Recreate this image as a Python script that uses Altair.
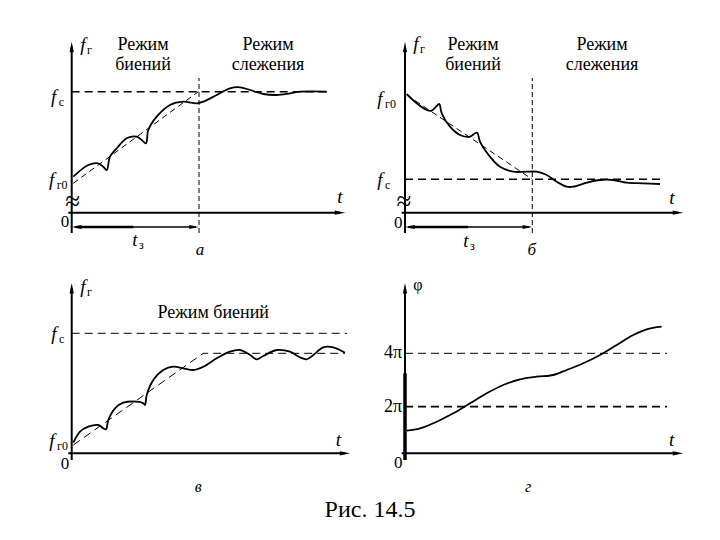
import altair as alt
import pandas as pd

SERIF = "Liberation Serif"
W, H = 352, 262

# ---------------- panel а : beat mode -> tracking (frequency rises) ----------------
A_T = [1.6, 16.6, 26.6, 31.6, 35, 38.3, 45, 55, 65, 70, 74.3, 76.6, 85, 98.3, 111.6,
       125, 131.6, 145, 158.3, 168.3, 178.3, 191.6, 205, 218.3, 228.3, 255]
A_F = [36, 47.7, 49.4, 46, 42.7, 56, 64.4, 74.4, 76, 72.7, 69.4, 82.7, 96, 107.7, 111,
       109.4, 111, 117.7, 124.4, 125.4, 122.7, 118.7, 117.7, 119.4, 121, 121]
A_TREND_T = [1.6, 126.6]
A_TREND_F = [29.4, 121.0]
A_FC = 121.0
A_TZ = 127.3

# ---------------- panel б : beat mode -> tracking (frequency falls) ----------------
B_T = [1.7, 11.7, 21.7, 26.7, 31.7, 34.3, 36.7, 45, 55, 65, 70, 72.3, 75, 85, 95, 108.3,
       121.7, 131.7, 141.7, 151.7, 161.7, 168.3, 181.7, 195, 208.3, 221.7, 238.3, 255]
B_F = [118.7, 109.4, 102.7, 102, 106.7, 108.7, 99.4, 86, 77.7, 76, 79.4, 80, 71, 56, 46, 41,
       41, 41, 37.7, 31, 26, 26, 30, 32.7, 32.7, 30, 29.4, 28.7]
B_TREND_T = [1.7, 127.3]
B_TREND_F = [117.7, 33.4]
B_FC = 33.4
B_TZ = 127.3

# ---------------- panel в : beat mode only ----------------
V_T = [1.6, 8.3, 16.6, 26.6, 31.6, 34.3, 36.6, 43.3, 51.6, 65, 71.6, 73.3, 75, 81.6, 91.6,
       101.6, 111.6, 121.6, 131.6, 145, 158.3, 168.3, 178.3, 185, 191.6, 205, 218.3, 228.3,
       235, 241.6, 251.6, 261.6, 273.3]
V_F = [10.6, 21.6, 26.6, 28.3, 25, 24, 33.3, 45, 50.6, 51.6, 50, 48.3, 58.3, 73.3, 83.3,
       86.6, 85, 83.3, 86.6, 95, 101.6, 103.3, 98.3, 94, 97.3, 103.3, 101.6, 96, 94, 98.3,
       106, 106, 100.6]
V_TREND_T = [1.6, 131.6, 273.3]
V_TREND_F = [8.3, 100.0, 100.0]
V_FC = 120.0

# ---------------- panel г : phase ----------------
G_T = [1.7, 15, 31.7, 48.3, 65, 81.7, 98.3, 115, 131.7, 148.3, 161.7, 178.3, 195, 211.7,
       228.3, 241.7, 256.7]
G_F = [22.6, 25, 31.6, 40, 50, 60, 68.3, 74, 76.6, 78.3, 83.3, 90, 98.3, 108.3, 118.3,
       124, 126.6]
G_4PI = 100.0
G_2PI = 46.6

UP = "M0,-1L0.4,1L-0.4,1Z"
RIGHT = "M1,0L-1,-0.4L-1,0.4Z"
LEFT = "M-1,0L1,-0.4L1,0.4Z"


def scales(xd, yd):
    return (alt.Scale(domain=xd, nice=False, zero=False),
            alt.Scale(domain=yd, nice=False, zero=False))


def enc(xs, ys):
    return dict(x=alt.X("x:Q", scale=xs, axis=None), y=alt.Y("y:Q", scale=ys, axis=None))


def path(xv, yv, xs, ys, width=1.8, dash=None, interp="linear"):
    df = pd.DataFrame({"x": list(xv), "y": list(yv), "i": list(range(len(xv)))})
    kw = dict(color="black", strokeWidth=width, interpolate=interp, strokeCap="butt")
    if dash:
        kw["strokeDash"] = dash
    return alt.Chart(df).mark_line(**kw).encode(order="i:Q", **enc(xs, ys))


def head(xv, yv, shape, xs, ys, size=110):
    df = pd.DataFrame({"x": [xv], "y": [yv]})
    return alt.Chart(df).mark_point(shape=shape, filled=True, color="black", opacity=1,
                                    size=size, strokeWidth=0).encode(**enc(xs, ys))


def label(rows, xs, ys, size, italic=False, align="center"):
    df = pd.DataFrame(rows, columns=["x", "y", "text"])
    return alt.Chart(df).mark_text(font=SERIF, fontSize=size,
                                   fontStyle="italic" if italic else "normal",
                                   align=align, baseline="middle", color="black").encode(
        text="text:N", **enc(xs, ys))


def axes(xs, ys, y_lo, y_top, x_lo, x_tip):
    return [
        path([0, 0], [y_lo, y_top - 5], xs, ys, width=2),
        head(0, y_top - 5, UP, xs, ys),
        path([x_lo, x_tip - 5], [0, 0], xs, ys, width=2),
        head(x_tip - 5, 0, RIGHT, xs, ys),
    ]


# ---------- а ----------
xs, ys = scales([-63.7, 288.3], [-57.3, 204.7])
pa = alt.layer(
    *axes(xs, ys, -20.3, 170.7, -3.4, 273.3),
    path([0, 255], [A_FC, A_FC], xs, ys, width=1.6, dash=[8, 5]),
    path(A_TREND_T, A_TREND_F, xs, ys, width=1, dash=[6, 4]),
    path([A_TZ, A_TZ], [-20.3, 134.7], xs, ys, width=1, dash=[5, 3]),
    path([3, A_TZ - 3], [-14.3, -14.3], xs, ys, width=1.3),
    path([5, 61.6], [-14.3, -14.3], xs, ys, width=2.6),
    head(5, -14.3, LEFT, xs, ys, size=90),
    head(A_TZ - 5, -14.3, RIGHT, xs, ys, size=90),
    path(A_T, A_F, xs, ys, width=1.8, interp="catmull-rom"),
    label([[1, 11, "≈"]], xs, ys, 27),
    label([[11.3, 167.7, "f"], [-18, 115.7, "f"], [-20, 32.7, "f"], [268.3, 16, "t"],
           [63.3, -27.3, "t"]], xs, ys, 19, italic=True),
    label([[128.3, -37.3, "а"]], xs, ys, 17, italic=True),
    label([[15.3, 162.7, "г"], [-13, 110.7, "c"], [-15, 27.7, "г0"], [67.3, -32, "з"]],
          xs, ys, 12, align="left"),
    label([[-6.7, -9, "0"]], xs, ys, 17),
    label([[71.3, 167.7, "Режим"], [71.3, 147.7, "биений"],
           [196.3, 167.7, "Режим"], [196.3, 147.7, "слежения"]], xs, ys, 18),
).properties(width=W, height=H)

# ---------- б ----------
xs, ys = scales([-45, 307], [-57.3, 204.7])
pb = alt.layer(
    *axes(xs, ys, -20.3, 170.7, -3.4, 278),
    path([0, 255], [B_FC, B_FC], xs, ys, width=1.6, dash=[8, 5]),
    path(B_TREND_T, B_TREND_F, xs, ys, width=1, dash=[6, 4]),
    path([B_TZ, B_TZ], [-20.3, 134.7], xs, ys, width=1, dash=[5, 3]),
    path([3, B_TZ - 3], [-14.3, -14.3], xs, ys, width=1.3),
    path([5, 63], [-14.3, -14.3], xs, ys, width=2.6),
    head(5, -14.3, LEFT, xs, ys, size=90),
    head(B_TZ - 5, -14.3, RIGHT, xs, ys, size=90),
    path(B_T, B_F, xs, ys, width=1.8, interp="catmull-rom"),
    label([[-1, 11, "≈"]], xs, ys, 27),
    label([[11, 168.7, "f"], [-25, 113.7, "f"], [-25, 32.7, "f"], [267, 14.7, "t"],
           [61, -28.3, "t"]], xs, ys, 19, italic=True),
    label([[126.7, -37.3, "б"]], xs, ys, 17, italic=True),
    label([[15, 163.7, "г"], [-20, 108.7, "г0"], [-20, 27.7, "c"], [65, -33, "з"]],
          xs, ys, 12, align="left"),
    label([[-6.7, -10.3, "0"]], xs, ys, 17),
    label([[68, 167.7, "Режим"], [68, 147.7, "биений"],
           [197, 167.7, "Режим"], [197, 147.7, "слежения"]], xs, ys, 18),
).properties(width=W, height=H)

# ---------- в ----------
xs, ys = scales([-63.7, 288.3], [-78.7, 183.3])
pv = alt.layer(
    *axes(xs, ys, -6.7, 170, -3.4, 278.3),
    path([0, 275.3], [V_FC, V_FC], xs, ys, width=1, dash=[8, 5]),
    path(V_TREND_T, V_TREND_F, xs, ys, width=1, dash=[8, 5]),
    path(V_T, V_F, xs, ys, width=1.8, interp="catmull-rom"),
    label([[11.3, 166.3, "f"], [-17.7, 119.3, "f"], [-19.7, 12.3, "f"], [266.6, 13.3, "t"]],
          xs, ys, 19, italic=True),
    label([[126.6, -33.4, "в"]], xs, ys, 16, italic=True),
    label([[15.3, 161.3, "г"], [-12.7, 114.3, "c"], [-14.7, 7.3, "г0"]],
          xs, ys, 12, align="left"),
    label([[-6.7, -10.5, "0"]], xs, ys, 17),
    label([[141.6, 140, "Режим биений"]], xs, ys, 18),
).properties(width=W, height=H)

# ---------- г ----------
xs, ys = scales([-45, 307], [-78.7, 183.3])
pg = alt.layer(
    *axes(xs, ys, -6.7, 170, -3.4, 278),
    path([0, 0], [-6.7, 80], xs, ys, width=3.5),
    path([0, 262], [G_4PI, G_4PI], xs, ys, width=1, dash=[8, 5]),
    path([0, 262], [G_2PI, G_2PI], xs, ys, width=1.8, dash=[8, 5]),
    path(G_T, G_F, xs, ys, width=1.8, interp="catmull-rom"),
    label([[266.7, 13.3, "t"]], xs, ys, 19, italic=True),
    label([[123, -33.4, "г"]], xs, ys, 16, italic=True),
    label([[8.3, 168.3, "φ"]], xs, ys, 16, align="left"),
    label([[-3, G_4PI, "4π"], [-3, G_2PI, "2π"]], xs, ys, 18, align="right"),
    label([[-6.7, -10, "0"]], xs, ys, 17),
    label([[-35, -56.7, "Рис. 14.5"]], xs, ys, 24),
).properties(width=W, height=H)

chart = alt.concat(pa, pb, pv, pg, columns=2, spacing=0, bounds="flush").properties(
    padding=0, background="white").configure_view(stroke=None)

chart.save("out.html", embed_options={"renderer": "svg", "actions": False})
